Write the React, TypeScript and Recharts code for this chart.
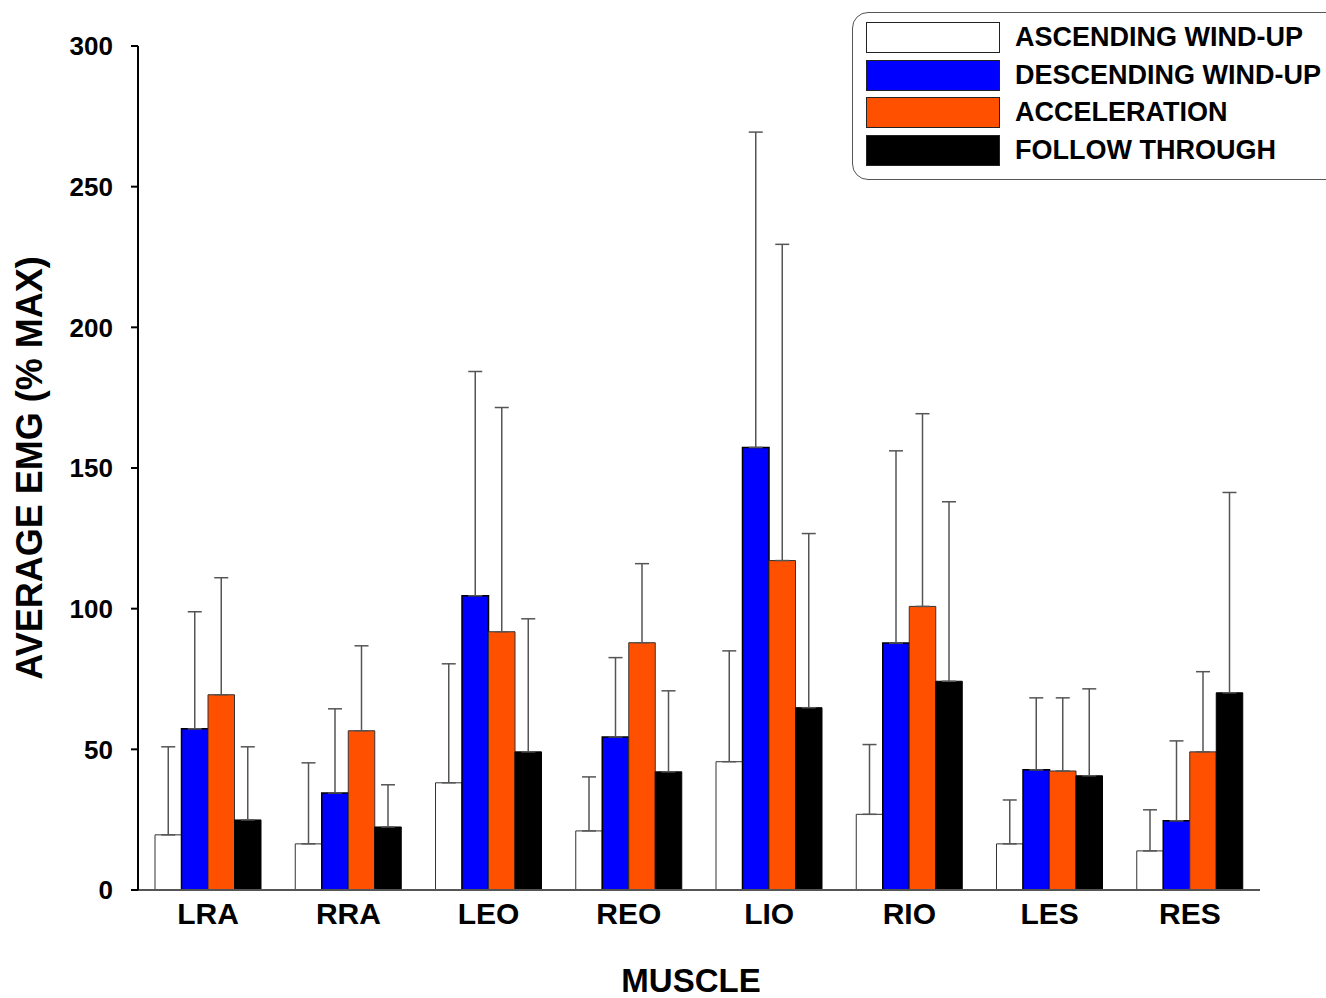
import React from 'react';
import { BarChart, Bar, XAxis, YAxis, ErrorBar, Legend, Label } from 'recharts';

const categories = ['LRA', 'RRA', 'LEO', 'REO', 'LIO', 'RIO', 'LES', 'RES'];
const ascending = [19.6, 16.4, 38.1, 21, 45.6, 26.9, 16.4, 13.9];
const ascendingSD = [31.3, 28.8, 42.3, 19.2, 39.4, 24.8, 15.6, 14.6];
const descending = [57.3, 34.5, 104.6, 54.4, 157.3, 87.8, 42.7, 24.6];
const descendingSD = [41.6, 29.9, 79.7, 28.2, 112.1, 68.3, 25.6, 28.4];
const acceleration = [69.4, 56.6, 91.8, 87.9, 117.1, 100.8, 42.3, 49.1];
const accelerationSD = [41.6, 30.2, 79.7, 28.1, 112.4, 68.5, 26, 28.5];
const followThrough = [24.9, 22.4, 49.1, 42, 64.8, 74.2, 40.6, 70.1];
const followThroughSD = [26, 15, 47.3, 28.8, 61.9, 63.8, 30.9, 71.2];
const yTicks = [0, 50, 100, 150, 200, 250, 300];

const seriesNames = ['ASCENDING WIND-UP', 'DESCENDING WIND-UP', 'ACCELERATION', 'FOLLOW THROUGH'];
const seriesColors = ['#FFFFFF', '#0000FF', '#FF5000', '#000000'];

const data = categories.map((c, i) => ({
  name: c,
  asc: ascending[i],
  ascErr: [0, ascendingSD[i]],
  desc: descending[i],
  descErr: [0, descendingSD[i]],
  acc: acceleration[i],
  accErr: [0, accelerationSD[i]],
  fol: followThrough[i],
  folErr: [0, followThroughSD[i]],
}));

const FONT = '"Liberation Sans", Arial, Helvetica, sans-serif';

const LegendBox = () => (
  <div
    style={{
      position: 'relative',
      width: 490,
      height: 168,
      boxSizing: 'border-box',
      border: '1px solid #555',
      borderRadius: 16,
      background: '#fff',
      fontFamily: FONT,
    }}
  >
    {seriesNames.map((n, i) => (
      <div
        key={n}
        style={{
          position: 'absolute',
          left: 13,
          top: 9 + i * 37.7,
          height: 31,
          display: 'flex',
          alignItems: 'center',
        }}
      >
        <div
          style={{
            width: 134,
            height: 31,
            boxSizing: 'border-box',
            background: seriesColors[i],
            border: '1px solid #222',
          }}
        />
        <span
          style={{
            marginLeft: 15,
            fontSize: 27,
            fontWeight: 'bold',
            color: '#000',
            whiteSpace: 'nowrap',
            lineHeight: '31px',
          }}
        >
          {n}
        </span>
      </div>
    ))}
  </div>
);

export default function App() {
  const errStroke = '#555';
  return (
    <div style={{ position: 'absolute', left: 0, top: 0, width: 1326, height: 998, overflow: 'hidden', background: '#fff' }}>
      <BarChart
        width={1326}
        height={998}
        data={data}
        margin={{ top: 46, right: 66, bottom: 0, left: 0 }}
        barGap={0}
        barSize={26.5}
        style={{ fontFamily: FONT }}
      >
        <XAxis
          dataKey="name"
          height={108}
          tickLine={false}
          tickSize={6}
          tickMargin={7}
          axisLine={{ stroke: '#555', strokeWidth: 2 }}
          tick={{ fontSize: 30, fontWeight: 'bold', fill: '#000', fontFamily: FONT }}
        >
          <Label
            value="MUSCLE"
            position="insideBottom"
            offset={6}
            dx={-8}
            style={{ fontSize: 33, fontWeight: 'bold', fill: '#000', fontFamily: FONT }}
          />
        </XAxis>
        <YAxis
          width={138}
          domain={[0, 300]}
          ticks={yTicks}
          interval={0}
          tickSize={7}
          tickMargin={18}
          axisLine={{ stroke: '#000', strokeWidth: 2 }}
          tickLine={{ stroke: '#000', strokeWidth: 2 }}
          tick={{ fontSize: 26, fontWeight: 'bold', fill: '#000', fontFamily: FONT }}
        >
          <Label
            value="AVERAGE EMG (% MAX)"
            position="center"
            angle={-90}
            dx={-40}
            style={{ fontSize: 36, fontWeight: 'bold', fill: '#000', fontFamily: FONT, textAnchor: 'middle' }}
          />
        </YAxis>
        <Legend
          layout="vertical"
          align="center"
          verticalAlign="middle"
          content={() => <LegendBox />}
          wrapperStyle={{ position: 'absolute', top: 12, left: 852, width: 490, height: 168 }}
        />
        <Bar dataKey="asc" fill={seriesColors[0]} stroke="#333" strokeWidth={1} isAnimationActive={false}>
          <ErrorBar dataKey="ascErr" width={7} stroke={errStroke} strokeWidth={1.5} direction="y" />
        </Bar>
        <Bar dataKey="desc" fill={seriesColors[1]} stroke="#000" strokeWidth={1.5} isAnimationActive={false}>
          <ErrorBar dataKey="descErr" width={7} stroke={errStroke} strokeWidth={1.5} direction="y" />
        </Bar>
        <Bar dataKey="acc" fill={seriesColors[2]} stroke="#333" strokeWidth={1} isAnimationActive={false}>
          <ErrorBar dataKey="accErr" width={7} stroke={errStroke} strokeWidth={1.5} direction="y" />
        </Bar>
        <Bar dataKey="fol" fill={seriesColors[3]} stroke="#000" strokeWidth={1} isAnimationActive={false}>
          <ErrorBar dataKey="folErr" width={7} stroke={errStroke} strokeWidth={1.5} direction="y" />
        </Bar>
      </BarChart>
    </div>
  );
}
